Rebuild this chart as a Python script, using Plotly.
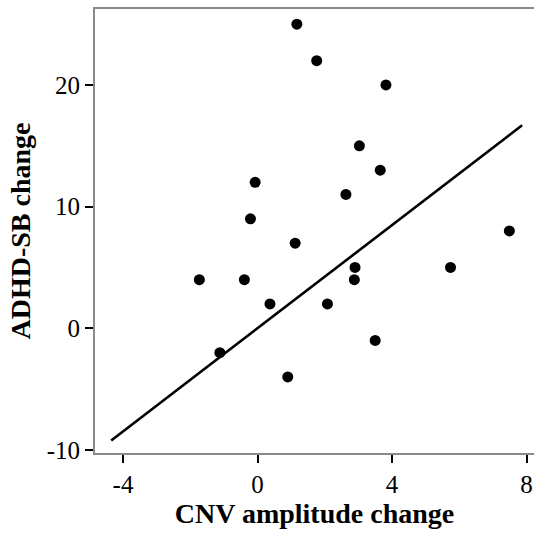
import plotly.graph_objects as go

cnv_change = [1.17, 1.76, 3.82, 3.03, 3.65, 2.63, 1.12, 7.49, 2.90, 5.74,
              -0.07, -0.21, -1.73, -0.39, 0.37, -1.12, 2.88, 2.08, 3.50, 0.90]
adhd_change = [25, 22, 20, 15, 13, 11, 7, 8, 5, 5,
               12, 9, 4, 4, 2, -2, 4, 2, -1, -4]

fit_intercept = 0.0
fit_slope = 2.12
fit_x_range = [-4.35, 7.87]

x_ticks = [-4, 0, 4, 8]
y_ticks = [-10, 0, 10, 20]

fit_y = [fit_intercept + fit_slope * x for x in fit_x_range]

font_family = "Liberation Serif, Times New Roman, serif"

fig = go.Figure()
fig.add_trace(go.Scatter(
    x=fit_x_range, y=fit_y, mode="lines",
    line=dict(color="black", width=2.6), showlegend=False, hoverinfo="skip"))
fig.add_trace(go.Scatter(
    x=cnv_change, y=adhd_change, mode="markers",
    marker=dict(color="black", size=11, line=dict(width=0)), showlegend=False))

fig.update_layout(
    width=534, height=536,
    margin=dict(l=95, r=0, t=9, b=83),
    paper_bgcolor="white", plot_bgcolor="white",
    font=dict(family=font_family, color="black", size=25),
)
fig.update_xaxes(
    range=[-4.833, 8.223], tickvals=x_ticks, ticktext=[str(t) for t in x_ticks],
    showgrid=False, zeroline=False,
    showline=True, linecolor="#8a8a8a", linewidth=2, mirror=True,
    ticks="outside", ticklen=8, tickwidth=2, tickcolor="black",
    tickfont=dict(family=font_family, size=25),
    title=dict(text="<b>CNV amplitude change</b>",
               font=dict(family=font_family, size=28), standoff=4),
)
fig.update_yaxes(
    range=[-10.25, 26.245], tickvals=y_ticks, ticktext=[str(t) for t in y_ticks],
    showgrid=False, zeroline=False,
    showline=True, linecolor="#8a8a8a", linewidth=2, mirror=False,
    ticks="outside", ticklen=8, tickwidth=2, tickcolor="black",
    tickfont=dict(family=font_family, size=25),
    title=dict(text="<b>ADHD-SB change</b>",
               font=dict(family=font_family, size=28), standoff=8),
)

fig.write_html("out.html")
